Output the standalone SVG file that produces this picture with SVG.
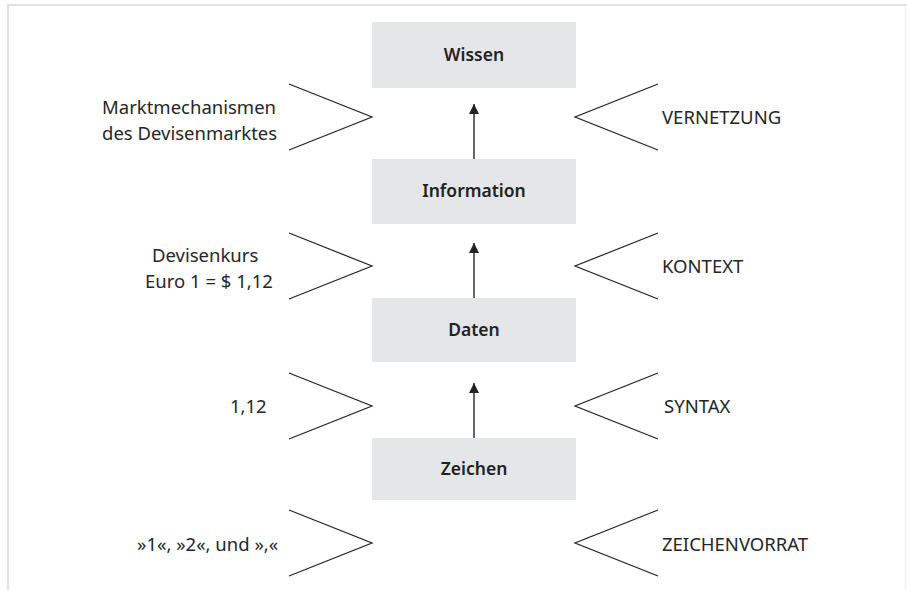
<svg xmlns="http://www.w3.org/2000/svg" width="907" height="590" viewBox="0 0 907 590">
<style>
.box{fill:#e5e6e8}
.lbl{font-family:"Noto Sans","Open Sans",sans-serif;font-size:17.5px;font-weight:600;fill:#222;text-anchor:middle}
.t{font-family:"Noto Sans","Open Sans",sans-serif;font-size:18.5px;fill:#262626}
.ch{fill:none;stroke:#222;stroke-width:1.2}
.ar{stroke:#333;stroke-width:1.5}
</style>
<defs>
<marker id="ah" viewBox="0 0 10 10" refX="10" refY="5" markerWidth="10" markerHeight="10" markerUnits="userSpaceOnUse" orient="auto">
<path d="M0,0 L10,5 L0,10 Z" fill="#222"/>
</marker>
</defs>
<rect width="907" height="590" fill="#fff"/>
<g id="frame">
<line x1="7" y1="5" x2="907" y2="5" stroke="#e2e2e2" stroke-width="2"/>
<line x1="8" y1="5" x2="8" y2="590" stroke="#e2e2e2" stroke-width="2"/>
<line x1="905.5" y1="5" x2="905.5" y2="590" stroke="#eeeeee" stroke-width="1"/>
</g>
<g id="wissen"><rect class="box" x="372" y="22" width="204" height="66"/><text class="lbl" x="474" y="61">Wissen</text></g>
<g id="information"><rect class="box" x="372" y="159" width="204" height="65"/><text class="lbl" x="474" y="197">Information</text></g>
<g id="daten"><rect class="box" x="372" y="298" width="204" height="64"/><text class="lbl" x="474" y="336">Daten</text></g>
<g id="zeichen"><rect class="box" x="372" y="438" width="204" height="62"/><text class="lbl" x="474" y="475">Zeichen</text></g>
<g id="connectors">
<line class="ar" x1="474" y1="159" x2="474" y2="104" marker-end="url(#ah)"/>
<line class="ar" x1="474" y1="298" x2="474" y2="243" marker-end="url(#ah)"/>
<line class="ar" x1="474" y1="438" x2="474" y2="383" marker-end="url(#ah)"/>
</g>
<g id="left-1"><polyline class="ch" points="289,84 372,117 289,150"/><text class="t" x="102" y="114">Marktmechanismen</text><text class="t" x="102" y="140">des Devisenmarktes</text></g>
<g id="right-1"><polyline class="ch" points="658,84 575,117 658,150"/><text class="t" x="662" y="124">VERNETZUNG</text></g>
<g id="left-2"><polyline class="ch" points="289,233 372,266 289,299"/><text class="t" x="152" y="262">Devisenkurs</text><text class="t" x="145" y="288">Euro 1 = $ 1,12</text></g>
<g id="right-2"><polyline class="ch" points="658,233 575,266 658,299"/><text class="t" x="662" y="273">KONTEXT</text></g>
<g id="left-3"><polyline class="ch" points="289,373 372,406 289,439"/><text class="t" x="230" y="413">1,12</text></g>
<g id="right-3"><polyline class="ch" points="658,373 575,406 658,439"/><text class="t" x="664" y="413">SYNTAX</text></g>
<g id="left-4"><polyline class="ch" points="289,510 372,543 289,576"/><text class="t" x="137" y="551">»1«, »2«, und »,«</text></g>
<g id="right-4"><polyline class="ch" points="658,510 575,543 658,576"/><text class="t" x="662" y="551">ZEICHENVORRAT</text></g>
</svg>
